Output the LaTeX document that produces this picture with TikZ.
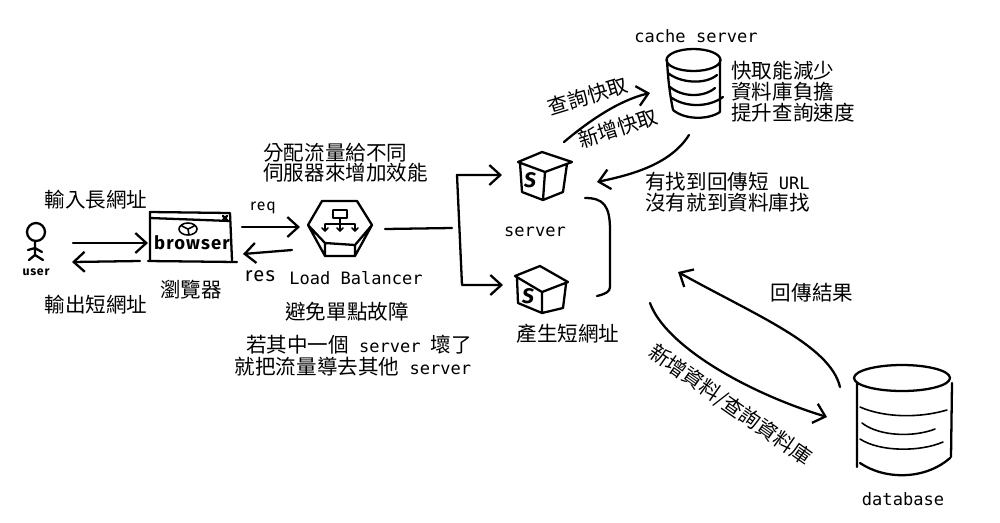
\documentclass[tikz,border=0pt]{standalone}
\usepackage{fontspec}
\setmainfont{Noto Sans CJK TC}
\newfontfamily\monofont{DejaVu Sans Mono}
\newfontfamily\handfont[LetterSpace=6]{Fira Sans}
\usetikzlibrary{arrows.meta,positioning}
\newcommand{\mono}[1]{{\monofont\fontsize{9.7}{14}\selectfont #1}}
\tikzset{
  hand/.style={line width=1.3pt,line cap=round,line join=round},
  handthin/.style={line width=0.9pt,line cap=round,line join=round},
  barb/.style={>={Straight Barb[length=2.2mm,width=4mm,line width=1.3pt]}},
  iconbox/.style={inner sep=0pt,outer sep=0pt},
  txt/.style={font=\fontsize{11.7}{14}\selectfont,inner sep=0pt},
  handtxt/.style={inner sep=0pt}
}
\begin{document}
\begin{tikzpicture}[x=0.02cm,y=-0.02cm,barb]
\useasboundingbox (0,0) rectangle (1000,522);
\node[iconbox,minimum width=0.56cm,minimum height=0.88cm] (user) at (36,245) {};
\node[iconbox,minimum width=1.68cm,minimum height=1cm] (browser) at (191,237) {};
\node[iconbox,minimum width=1.32cm,minimum height=1.12cm] (lb) at (340,228) {};
\node[iconbox,minimum width=1.12cm,minimum height=1cm] (servera) at (545,176) {};
\node[iconbox,minimum width=1.12cm,minimum height=1cm] (serverb) at (541,290) {};
\node[iconbox,minimum width=1.12cm,minimum height=1.4cm] (cache) at (694,85) {};
\node[iconbox,minimum width=2cm,minimum height=2.32cm] (database) at (904,420) {};
\coordinate (split) at (452,228);
\draw[hand] (36,232) circle (9) (35,241) -- (35,255) -- (29,260) (35,255) -- (43,260) (28,250) -- (35,248) -- (42,252);
\node[handtxt,font=\handfont\bfseries\fontsize{7}{8}\selectfont] (usertxt) at (36,272) {user};
\draw[hand] (150,218) -- (150,212) -- (230,213) -- (232,260) (150,218) -- (230,221) (150,218) -- (150,260) (148,261) -- (237,262) (223,216) -- (227,220) (227,216) -- (223,220);
\draw[handthin] (188,229) ellipse (9 and 6) (188,229) -- (182,226) (188,229) -- (194,226) (188,229) -- (189,235);
\node[handtxt,font=\handfont\bfseries\fontsize{10.5}{12}\selectfont] (browsertxt) at (192,243) {browser};
\draw[hand] (322,201) -- (357,201) -- (372,225) -- (355,256) -- (325,256) -- (308,225) -- cycle (308,225) -- (325,243) -- (355,245) -- (372,225) (325,243) -- (325,256) (355,245) -- (355,256);
\draw[handthin] (333,210) rectangle (347,218) (340,218) -- (340,224) (325,231) -- (325,224) -- (355,224) -- (355,231) (340,224) -- (340,231) (322,228) -- (325,231) -- (328,228) (337,228) -- (340,231) -- (343,228) (352,228) -- (355,231) -- (358,228);
\draw[hand] (518,162) -- (542,152) -- (572,162) -- (545,172) -- cycle (520,163) -- (522,192) -- (543,200) -- (563,192) -- (567,164) (545,172) -- (543,200);
\node[handtxt,font=\handfont\bfseries\itshape\fontsize{12}{14}\selectfont] (servertxta) at (530,180) {S};
\draw[hand] (515,276) -- (540,266) -- (568,282) -- (542,292) -- cycle (517,278) -- (518,303) -- (542,313) -- (563,308) -- (566,284) (542,292) -- (542,313);
\node[handtxt,font=\handfont\bfseries\itshape\fontsize{12}{14}\selectfont] (servertxtb) at (528,296) {S};
\draw[hand] (693.5,60) ellipse (27 and 11) (667,60) .. controls (668,80) and (670,95) .. (673,110) (720,60) -- (720,112) (673,110) .. controls (685,120) and (708,120) .. (720,112) (668,73) .. controls (680,83) and (705,85) .. (717,75) (670,87) .. controls (682,97) and (703,98) .. (715,88) (672,98) .. controls (685,107) and (708,108) .. (723,97);
\draw[hand] (902,378) ellipse (48 and 13) (857,383) -- (857,467) (952,383) -- (951,457) (860,463) .. controls (885,480) and (925,480) .. (950,458);
\draw[handthin] (860,407) .. controls (885,418) and (920,418) .. (947,410) (862,423) .. controls (880,437) and (915,437) .. (935,429) (860,439) .. controls (880,452) and (920,452) .. (943,442);
\draw[hand,->] ([shift={(23,-2)}]user.east) -- ([shift={(-1,6)}]browser.west);
\draw[hand,->] ([shift={(-9,24)}]browser.west) -- ([shift={(22,17)}]user.east);
\draw[hand,->] ([shift={(9,-10)}]browser.east) -- ([shift={(-7,-1)}]lb.west);
\draw[hand,->] ([shift={(-15,22)}]lb.west) -- ([shift={(10,17)}]browser.east);
\draw[hand] ([shift={(12,1)}]lb.east) -- (split);
\draw[hand,<->] ([shift={(-15,-1)}]servera.west) -- (457,175) -- (462,285) -- ([shift={(-10,-5)}]serverb.west);
\draw[hand] ([shift={(40,22)}]servera.center) .. controls (603,198) and (610,205) .. (610,230) -- (610,287) .. controls (610,292) and (605,294) .. ([shift={(56,6)}]serverb.center);
\draw[hand,->] ([shift={(19,-34)}]servera.center) .. controls (590,120) and (620,100) .. ([shift={(-44,8)}]cache.center);
\draw[hand,->] ([shift={(-5,50)}]cache.center) .. controls (670,165) and (630,175) .. ([shift={(52,6)}]servera.center);
\draw[hand,->] ([shift={(-64,-33)}]database.center) .. controls (830,345) and (755,315) .. ([shift={(137,-18)}]serverb.center);
\draw[hand,->] ([shift={(109,13)}]serverb.center) .. controls (665,345) and (745,392) .. ([shift={(-77,-3)}]database.center);
\node[txt] (inputlabel) at (96,200) {輸入長網址};
\node[txt] (outputlabel) at (96,305) {輸出短網址};
\node[txt] (browserlabel) at (191,290) {瀏覽器};
\node[handtxt,font=\handfont\fontsize{9}{11}\selectfont] (reqlabel) at (263,208) {req};
\node[handtxt,font=\handfont\fontsize{11.5}{13}\selectfont] (reslabel) at (260,276) {res};
\node[txt,anchor=west] (lbnotea) at (263,153) {分配流量給不同};
\node[txt,anchor=west] (lbnoteb) at (263,173) {伺服器來增加效能};
\node[inner sep=0pt] (lblabel) at (356,278) {\mono{Load Balancer}};
\node[txt] (lbnotec) at (347,312) {避免單點故障};
\node[txt] (lbnoted) at (359,345) {若其中一個\mono{ server }壞了};
\node[txt] (lbnotee) at (353,367) {就把流量導去其他\mono{ server}};
\node[inner sep=0pt] (serverlabel) at (535,232) {\mono{server}};
\node[txt] (shortlabel) at (568,334) {產生短網址};
\node[inner sep=0pt] (cachelabel) at (696,36) {\mono{cache server}};
\node[txt,anchor=west] (cachenotea) at (731,71) {快取能減少};
\node[txt,anchor=west] (cachenoteb) at (731,92) {資料庫負擔};
\node[txt,anchor=west] (cachenotec) at (731,113) {提升查詢速度};
\node[txt,rotate=17] (querycache) at (588,96) {查詢快取};
\node[txt,rotate=18] (addcache) at (618,128) {新增快取};
\node[txt,anchor=west] (foundnotea) at (645,182) {有找到回傳短\mono{ URL}};
\node[txt,anchor=west] (foundnoteb) at (645,203) {沒有就到資料庫找};
\node[txt] (resultlabel) at (812,293) {回傳結果};
\node[txt,rotate=-35] (dblabel) at (730,405) {新增資料/查詢資料庫};
\node[inner sep=0pt] (databaselabel) at (903,499) {\mono{database}};
\end{tikzpicture}
\end{document}
